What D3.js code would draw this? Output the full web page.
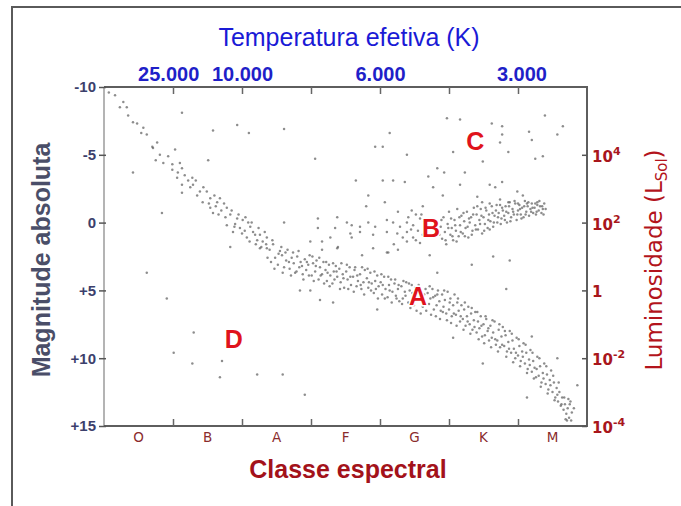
<!DOCTYPE html>
<html>
<head>
<meta charset="utf-8">
<script src="https://cdn.jsdelivr.net/npm/d3@7"></script>
<style>
  body { margin: 0; background: #fff; }
  svg { display: block; }
</style>
</head>
<body>
<div id="chart"></div>
<script>
// Spectral classes along the bottom, band boundaries between them
const classes = ["O", "B", "A", "F", "G", "K", "M"];
const classBounds = [1, 2, 3, 4, 5, 6];

// Absolute magnitude ticks (left) and luminosity ticks (right)
const magTicks = [-10, -5, 0, 5, 10, 15];
const lumTicks = [-5, 0, 5, 10, 15];
const lumLabels = [["10", "4"], ["10", "2"], ["1", ""], ["10", "-2"], ["10", "-4"]];

// Temperature labels on top and where they sit on the spectral axis
const tempLabels = ["25.000", "10.000", "6.000", "3.000"];
const tempClassPos = [0.93, 2.0, 4.0, 6.05];

// Region letters [label, spectral index, magnitude]
const regionLetters = [["A", 4.55, 5.4], ["B", 4.74, 0.4], ["C", 5.38, -6.0], ["D", 1.88, 8.6]];

// Stars: [spectral index, absolute magnitude]
const mainSeqUpper = [
  [0.07,-9.6],[0.16,-9.4],[0.23,-8.5],[0.33,-8.5],[0.35,-7.9],[0.42,-7.4],[0.48,-7.3],[0.54,-6.6],
  [0.62,-6.5],[0.70,-5.6],[0.71,-5.5],[0.77,-5.9],[0.81,-5.0],[0.75,-4.6],[0.86,-4.4],[0.99,-4.3],
  [1.03,-5.4],[1.10,-4.4],[0.99,-3.9],[1.07,-3.7],[1.13,-4.0],[1.06,-3.3],[1.17,-3.5],[1.22,-3.1],
  [1.28,-3.3],[1.13,-2.8],[1.29,-2.8],[1.39,-2.3],[1.49,-2.3],[1.35,-2.0],[1.54,-1.8],[1.13,-2.2],
  [1.43,-1.5],[1.64,-1.5],[1.68,-1.8],[1.54,-1.1],[1.78,-1.1],[1.58,-0.7],[1.83,-0.6],[1.93,-0.3],
  [2.01,-0.2],[2.09,0.0],[1.78,0.2],[1.97,0.4],[2.16,0.7],[2.26,0.9],[2.36,1.1],[1.87,0.7],
  [2.07,1.1],[2.22,1.3],[2.30,1.4],[1.83,1.8],[2.26,1.9],[2.36,1.9],[1.70,-0.9],[1.90,0.1],
  [2.12,0.3],[2.20,1.6],[2.04,0.6],[1.62,-1.2],
  [1.44,-2.6],[1.52,-1.4],[1.60,-2.0],[1.66,-0.6],[1.74,-1.4],[1.76,-0.4],[1.85,-0.9],[1.89,0.3],
  [1.95,-0.6],[2.00,0.8],[2.05,-0.4],[2.11,1.4],[2.14,0.0],[2.19,0.9],[2.24,0.4],[2.28,1.8],
  [2.33,0.7],[2.35,1.6],[1.25,-2.6],[1.33,-3.1],[0.93,-4.9],[0.57,-7.0],[0.28,-8.9]
];

const mainSeqLower = [
  [2.40,2.0],[2.42,2.9],[2.45,1.6],[2.48,2.6],[2.52,3.1],[2.55,2.1],[2.58,2.4],[2.61,3.3],
  [2.64,2.8],[2.66,2.0],[2.69,3.4],[2.72,2.6],[2.75,3.0],[2.77,3.7],[2.80,2.5],[2.83,3.3],
  [2.85,2.9],[2.88,3.8],[2.91,2.7],[2.93,3.5],[2.96,3.1],[2.98,2.4],[3.01,3.9],[3.03,3.0],
  [3.06,3.6],[3.08,2.8],[3.11,4.2],[3.13,3.3],[3.16,3.8],[3.18,2.9],[3.21,3.5],[3.23,4.3],
  [3.26,3.1],[3.28,3.9],[3.31,4.5],[3.33,3.6],[3.36,3.2],[3.38,4.0],[3.41,3.4],[3.43,4.4],
  [3.46,3.8],[3.48,4.8],[3.51,3.6],[3.53,4.2],[3.56,3.3],[3.58,4.6],[3.61,4.0],[3.63,3.5],
  [3.66,4.7],[3.68,4.3],[3.71,3.8],[3.73,4.9],[3.76,4.4],[3.78,3.5],[3.81,4.1],[3.83,4.8],
  [3.86,3.7],[3.88,4.5],[3.91,5.2],[3.93,4.3],[3.96,3.9],[3.98,4.7],[4.01,4.4],[4.03,5.3],
  [4.06,4.0],[4.08,4.9],[4.11,5.5],[4.13,4.6],[4.16,4.2],[4.18,5.1],[4.21,4.5],[4.23,5.4],
  [4.26,4.9],[4.28,5.8],[4.31,4.7],[4.33,5.6],[4.36,5.1],[4.38,4.4],[4.41,5.9],[4.43,5.0],
  [4.46,4.6],[4.49,6.1],[4.51,4.8],[4.62,6.2],[4.66,4.9],[4.69,5.2],[4.71,6.0],[4.73,5.6],
  [4.76,4.9],[4.78,6.4],[4.80,5.4],[4.82,6.1],[4.84,5.0],[4.86,5.8],[4.88,6.5],[4.90,5.3],
  [4.92,6.2],[4.94,5.7],[4.96,6.7],[4.98,5.1],[5.00,6.4],[5.02,5.6],[5.04,6.9],[5.06,6.1],
  [5.08,5.3],[5.10,6.8],[5.12,5.9],[5.14,6.5],[5.16,7.3],[5.18,6.1],[5.20,7.1],[5.22,6.4],
  [5.24,7.6],[5.26,6.9],[5.28,6.2],[5.30,7.5],[5.32,6.7],[5.34,7.9],[5.36,7.2],[5.38,6.6],
  [5.40,8.1],[5.42,7.3],[5.44,7.8],[5.46,6.9],[5.48,8.4],[5.50,7.5],[5.52,8.3],[5.54,7.1],
  [5.56,8.0],[5.58,8.7],[5.60,7.6],[5.62,8.5],[5.64,8.1],[5.66,7.3],[5.68,9.0],[5.70,8.7],
  [5.72,7.9],[5.74,9.2],[5.76,8.4],[5.78,7.7],[5.80,9.1],[5.82,8.3],[5.84,9.5],[5.86,8.8],
  [5.88,8.0],[5.90,9.6],[5.92,8.7],[5.94,9.3],[5.96,10.0],[5.98,8.5],[6.00,9.8],[6.02,9.1],
  [6.04,10.2],[6.06,9.5],[6.08,8.9],[6.10,10.4],[6.12,9.6],[6.14,10.8],[6.16,10.1],[6.18,9.4],
  [6.20,11.0],[6.22,10.2],[6.24,10.7],[6.26,11.4],[6.28,9.9],[6.30,11.3],[6.32,10.6],[6.34,11.8],
  [6.36,11.1],[6.38,10.4],[6.40,11.9],[6.42,11.2],[6.44,12.3],[6.46,11.6],[6.48,10.9],[6.50,12.5],
  [6.52,11.8],[6.54,12.9],[6.56,12.2],[6.58,13.2],[6.60,12.5],[6.62,13.5],[6.64,12.9],[6.66,13.8],
  [6.68,13.4],[6.70,14.1],[6.72,13.7],[6.74,14.4],[6.76,13.2],[6.78,14.0],[6.71,14.6],[6.75,13.4],
  // stragglers around the band
  [2.84,5.0],[2.99,5.0],[3.13,5.7],[3.32,5.9],[3.96,6.4],[3.39,1.8],[3.74,2.4],[4.10,2.2],
  [4.26,2.0],[5.33,3.1],[5.64,2.5],[5.83,4.9],[6.57,10.0],[6.86,12.0],[6.13,12.9],[5.06,8.5],
  [5.49,10.4],[6.20,8.4],[5.88,2.8],[4.72,2.4],[4.83,3.7]
];

const mainSeqFill = [
  [2.37,2.6],[2.44,1.3],[2.47,3.4],[2.53,2.3],[2.57,1.8],[2.59,3.7],[2.63,2.2],[2.68,2.9],
  [2.71,3.9],[2.74,2.2],[2.79,3.6],[2.82,2.1],[2.87,3.2],[2.89,4.2],[2.94,2.9],[2.97,3.9],
  [3.02,2.5],[3.04,4.3],[3.07,3.2],[3.12,2.6],[3.14,3.9],[3.19,4.5],[3.22,2.9],[3.24,3.7],
  [3.27,4.7],[3.32,3.0],[3.34,4.2],[3.37,3.6],[3.42,4.9],[3.44,3.0],[3.47,4.1],[3.52,3.1],
  [3.54,4.9],[3.57,4.0],[3.62,5.1],[3.64,3.3],[3.67,3.9],[3.72,4.6],[3.74,3.3],[3.77,5.3],
  [3.82,3.4],[3.84,4.4],[3.87,5.0],[3.92,3.6],[3.94,4.9],[3.97,5.6],[4.02,3.8],[4.04,4.6],
  [4.07,5.6],[4.12,4.0],[4.14,5.0],[4.17,5.9],[4.22,4.2],[4.24,5.6],[4.27,4.6],[4.32,6.0],
  [4.34,4.3],[4.37,5.4],[4.42,4.5],[4.44,6.3],[4.47,5.2],[4.53,6.5],[4.56,4.6],[4.59,6.7],
  [4.64,5.3],[4.67,6.5],[4.72,4.7],[4.74,6.8],[4.77,5.5],[4.81,6.9],[4.83,5.3],[4.87,7.1],
  [4.91,6.6],[4.93,5.0],[4.97,7.2],[5.01,5.9],[5.03,7.4],[5.07,6.7],[5.11,7.6],[5.13,5.6],
  [5.17,6.9],[5.21,7.9],[5.23,5.9],[5.27,7.3],[5.31,8.2],[5.33,6.3],[5.37,7.7],[5.41,6.6],
  [5.43,8.6],[5.47,7.6],[5.51,8.9],[5.53,6.9],[5.57,7.8],[5.61,9.2],[5.63,7.2],[5.67,8.6],
  [5.71,9.5],[5.73,7.5],[5.77,9.0],[5.81,8.0],[5.83,9.9],[5.87,9.3],[5.91,8.2],[5.93,10.3],
  [5.97,9.6],[6.01,8.6],[6.03,10.6],[6.07,9.9],[6.11,9.0],[6.13,11.1],[6.17,10.5],[6.21,9.6],
  [6.23,11.5],[6.27,10.8],[6.31,10.0],[6.33,12.1],[6.37,11.5],[6.41,10.6],[6.43,12.6],[6.47,12.0],
  [6.51,11.3],[6.53,13.1],[6.57,12.7],[6.59,11.8],[6.63,13.4],[6.67,12.9],[6.69,14.5],[6.73,13.0],
  [6.77,14.6],[6.81,13.7]
];

const subGiants = [
  [3.10,-0.3],[2.61,0.0],[3.38,-0.4],[3.52,0.0],[3.59,0.2],[3.71,0.3],[3.83,0.0],[3.93,0.3],
  [4.10,-0.2],[4.19,0.0],[4.29,0.3],[4.39,0.0],[4.48,0.2],[4.58,-0.3],[3.10,0.4],[3.35,0.4],
  [3.57,0.8],[3.71,0.7],[3.90,0.9],[4.10,0.7],[4.25,0.8],[4.39,0.7],[4.48,1.1],[4.33,1.1],
  [2.99,1.4],[3.16,1.4],[3.28,1.1],[3.59,1.1],[3.38,1.9],[3.16,2.0],[3.90,1.9],[4.12,2.2],
  [4.39,1.4],[4.20,1.6],[4.52,-0.6],[3.80,-1.2],[4.07,-1.5],[4.26,-0.8],[4.46,-0.9],[4.62,-1.2]
];

const giants = [
  [4.55,0.6],[4.58,1.5],[4.60,-0.6],[4.88,0.3],[4.90,1.2],[4.92,-0.4],[4.94,0.7],[4.96,1.6],
  [4.98,0.1],[5.00,-0.8],[5.02,0.9],[5.04,0.4],[5.06,1.3],[5.08,-0.2],[5.10,0.6],[5.12,-1.0],
  [5.14,1.0],[5.16,0.2],[5.18,-0.5],[5.20,0.8],[5.22,-0.1],[5.24,0.4],[5.26,-0.8],[5.28,1.1],
  [5.30,0.0],[5.32,-0.4],[5.34,0.6],[5.36,-1.1],[5.38,0.2],[5.40,-0.6],[5.42,0.5],[5.44,-0.2],
  [5.46,-1.0],[5.48,0.8],[5.50,-0.4],[5.52,0.1],[5.54,-0.9],[5.56,0.4],[5.58,-0.6],[5.60,-0.1],
  [5.62,-1.2],[5.64,0.3],[5.66,-0.5],[5.68,-0.9],[5.70,0.0],[5.72,-0.7],[5.74,-1.3],[5.76,-0.3],
  [5.78,-0.9],[5.80,-0.5],[5.82,-1.2],[5.84,0.0],[5.86,-0.7],[5.88,-1.5],[5.90,-0.4],[5.92,-1.0],
  [5.94,-0.6],[5.96,-1.4],[5.98,-0.2],[6.00,-0.9],[6.02,-1.3],[6.04,-0.6],[6.06,-1.1],[6.08,-0.4],
  [6.10,-1.6],[6.12,-0.8],[6.14,-1.2],[6.16,-0.5],[6.18,-1.0],[6.20,-1.4],[6.22,-0.7],[6.24,-1.1],
  [6.26,-0.6],[6.28,-1.5],[6.30,-0.9],[6.32,-1.2],[6.34,-0.7],[6.36,-1.0],[6.38,-1.4],
  [3.65,-3.1],[4.04,-3.1],[4.19,-3.1],[4.36,-3.0],[4.83,-4.0],[4.93,-3.7],[4.70,-3.4],[5.23,-3.7],
  [5.77,-3.0],[5.59,-2.8],[5.67,-2.6],[4.77,-2.6],[5.16,-2.8],[5.99,-2.3],[6.07,-2.0],[4.91,-2.0],
  [5.41,-1.9],[5.48,-1.5],[5.59,-1.4],[5.74,-1.7],[5.86,-1.5],[6.00,-1.4],[6.13,-1.4],[6.28,-1.3],
  [3.83,-2.0]
];

const giantsFill = [
  [4.86,0.9],[4.89,-0.2],[4.95,1.3],[4.99,0.4],[5.03,-0.3],[5.05,1.0],[5.09,0.2],[5.11,1.4],
  [5.15,-0.4],[5.17,0.7],[5.21,-0.7],[5.23,1.0],[5.27,0.3],[5.29,-0.3],[5.33,0.9],[5.35,-0.6],
  [5.39,0.5],[5.41,-1.2],[5.45,0.1],[5.47,-0.5],[5.51,0.6],[5.53,-1.1],[5.57,-0.2],[5.59,0.5],
  [5.63,-0.7],[5.65,0.0],[5.69,-1.3],[5.71,-0.4],[5.75,0.1],[5.77,-1.1],[5.81,-0.2],[5.83,-0.8],
  [5.87,-1.2],[5.89,-0.1],[5.93,-0.8],[5.95,-1.6],[5.99,-0.6],[6.03,-1.0],[6.05,-0.3],[6.09,-1.2],
  [6.11,-0.6],[6.15,-1.5],[6.19,-0.8],[6.21,-1.1],[6.25,-1.4],[6.27,-0.8],[6.31,-1.6],[6.35,-1.2],
  [6.37,-0.6],[6.40,-1.0],[4.62,0.9],[4.64,-0.1],[4.52,1.3],[4.45,0.5],[4.41,-0.4]
];

const superGiants = [
  [1.13,-8.1],[1.58,-6.8],[1.93,-7.2],[2.10,-6.6],[2.61,-6.9],[3.06,-4.7],[1.51,-4.6],[0.42,-3.7],
  [0.84,-0.7],[4.14,-6.6],[3.93,-5.6],[4.04,-5.6],[4.39,-5.0],[4.97,-7.7],[5.16,-7.6],[5.62,-7.3],
  [5.77,-7.1],[5.77,-6.5],[5.74,-5.9],[5.86,-5.2],[6.16,-6.7],[6.20,-6.1],[6.39,-7.9],[6.65,-7.1],
  [6.57,-6.5],[6.25,-4.7],[6.36,-4.9],[5.06,-5.2],[5.49,-4.5]
];

const whiteDwarfs = [
  [0.62,3.7],[0.91,5.6],[1.30,8.1],[1.01,9.6],[1.28,10.4],[1.71,10.2],[1.68,11.4],[2.22,11.2],
  [2.59,11.2],[2.91,12.7]
];

const width = 681;
const height = 506;
const plot = { left: 104, right: 587, top: 87, bottom: 426 };

const svg = d3.select("#chart").append("svg")
  .attr("width", width)
  .attr("height", height);

// outer frame (top and left edges of a box)
svg.append("path")
  .attr("d", `M12,${height} L12,7 L${width},7`)
  .attr("fill", "none")
  .attr("stroke", "#5a5a5a")
  .attr("stroke-width", 2);

const x = d3.scaleLinear().domain([0, 7]).range([plot.left, plot.right]);
const y = d3.scaleLinear().domain([-10, 15]).range([plot.top, plot.bottom]);
const band = d3.scaleBand().domain(classes).range([plot.left, plot.right]);

// stars
const stars = [].concat(mainSeqUpper, mainSeqLower, mainSeqFill, subGiants, giants, giantsFill,
  superGiants, whiteDwarfs);
svg.append("g")
  .selectAll("circle")
  .data(stars)
  .join("circle")
  .attr("cx", d => x(d[0]))
  .attr("cy", d => y(d[1]))
  .attr("r", 1.25)
  .attr("fill", "#5c5c5c")
  .attr("opacity", 0.7);

// plot border
svg.append("line")
  .attr("x1", plot.left).attr("x2", plot.left)
  .attr("y1", plot.top).attr("y2", plot.bottom)
  .attr("stroke", "#b4b4b4").attr("stroke-width", 2);
svg.append("path")
  .attr("d", `M${plot.left},${plot.top} H${plot.right} V${plot.bottom} H${plot.left}`)
  .attr("fill", "none")
  .attr("stroke", "#5e5e5e")
  .attr("stroke-width", 2);

// top / bottom inner ticks at class boundaries
svg.append("g")
  .attr("transform", `translate(0,${plot.top})`)
  .call(d3.axisTop(x).tickValues(classBounds).tickSize(-7).tickSizeOuter(0).tickFormat(""))
  .call(g => g.select(".domain").remove())
  .call(g => g.selectAll("line").attr("stroke", "#666").attr("stroke-width", 1.5));
svg.append("g")
  .attr("transform", `translate(0,${plot.bottom})`)
  .call(d3.axisBottom(x).tickValues(classBounds).tickSize(-7).tickSizeOuter(0).tickFormat(""))
  .call(g => g.select(".domain").remove())
  .call(g => g.selectAll("line").attr("stroke", "#666").attr("stroke-width", 1.5));

// temperature labels
svg.append("g")
  .attr("transform", `translate(0,${plot.top - 6})`)
  .call(d3.axisTop(x).tickValues(tempClassPos).tickSize(0).tickPadding(0)
    .tickFormat((d, i) => tempLabels[i]))
  .call(g => g.select(".domain").remove())
  .call(g => g.selectAll("text")
    .attr("font-family", "Liberation Sans, Arial, sans-serif")
    .attr("font-size", 20)
    .attr("font-weight", "bold")
    .attr("fill", "#1f1fc8"));

// spectral class letters
svg.append("g")
  .attr("transform", `translate(0,${plot.bottom + 6})`)
  .call(d3.axisBottom(band).tickSize(0).tickPadding(0))
  .call(g => g.select(".domain").remove())
  .call(g => g.selectAll("text")
    .attr("font-family", "DejaVu Sans, sans-serif")
    .attr("font-size", 13.5)
    .attr("fill", "#8a2c2c"));

// left magnitude axis
svg.append("g")
  .attr("transform", `translate(${plot.left + 2},0)`)
  .call(d3.axisLeft(y).tickValues(magTicks).tickSize(7).tickSizeOuter(0).tickPadding(3)
    .tickFormat(d => d > 0 ? "+" + d : String(d)))
  .call(g => g.select(".domain").remove())
  .call(g => g.selectAll("line").attr("stroke", "#555").attr("stroke-width", 1.5))
  .call(g => g.selectAll("text")
    .attr("font-family", "Liberation Sans, Arial, sans-serif")
    .attr("font-size", 15)
    .attr("font-weight", "bold")
    .attr("fill", "#3c3f6c"));

// right luminosity axis
const right = svg.append("g")
  .attr("transform", `translate(${plot.right},0)`)
  .call(d3.axisRight(y).tickValues(lumTicks).tickSize(-5).tickSizeOuter(0).tickFormat(""))
  .call(g => g.select(".domain").remove())
  .call(g => g.selectAll("line").attr("stroke", "#555").attr("stroke-width", 1.5));

const lumText = right.selectAll(".lum")
  .data(lumTicks)
  .join("text")
  .attr("class", "lum")
  .attr("x", 5)
  .attr("y", d => y(d) + 7)
  .attr("font-family", "DejaVu Sans, sans-serif")
  .attr("font-size", 15)
  .attr("font-weight", "bold")
  .attr("fill", "#a8161c");
lumText.append("tspan").text((d, i) => lumLabels[i][0]);
lumText.append("tspan")
  .attr("dy", -7)
  .attr("font-size", 11)
  .text((d, i) => lumLabels[i][1]);

// axis titles
svg.append("text")
  .attr("x", 349).attr("y", 46)
  .attr("text-anchor", "middle")
  .attr("font-family", "Liberation Sans, Arial, sans-serif")
  .attr("font-size", 25)
  .attr("fill", "#1a1ad6")
  .text("Temperatura efetiva (K)");

svg.append("text")
  .attr("x", 348).attr("y", 478)
  .attr("text-anchor", "middle")
  .attr("font-family", "Liberation Sans, Arial, sans-serif")
  .attr("font-size", 25)
  .attr("font-weight", "bold")
  .attr("fill", "#a3121a")
  .text("Classe espectral");

svg.append("text")
  .attr("transform", "translate(50,260) rotate(-90)")
  .attr("text-anchor", "middle")
  .attr("font-family", "Liberation Sans, Arial, sans-serif")
  .attr("font-size", 25)
  .attr("font-weight", "bold")
  .attr("fill", "#4a4e68")
  .text("Magnitude absoluta");

const lumTitle = svg.append("text")
  .attr("transform", "translate(662,260) rotate(-90)")
  .attr("text-anchor", "middle")
  .attr("font-family", "DejaVu Sans, sans-serif")
  .attr("font-size", 23)
  .attr("fill", "#b3141c");
lumTitle.append("tspan").text("Luminosidade (L");
lumTitle.append("tspan").attr("font-size", 15).attr("dy", 5).text("Sol");
lumTitle.append("tspan").attr("dy", -5).text(")");

// region letters
svg.append("g")
  .selectAll("text")
  .data(regionLetters)
  .join("text")
  .attr("x", d => x(d[1]))
  .attr("y", d => y(d[2]))
  .attr("text-anchor", "middle")
  .attr("dominant-baseline", "central")
  .attr("font-family", "Liberation Sans, Arial, sans-serif")
  .attr("font-size", 25)
  .attr("font-weight", "bold")
  .attr("fill", "#e0131c")
  .attr("stroke", "#fff")
  .attr("stroke-width", 3)
  .attr("paint-order", "stroke")
  .text(d => d[0]);
</script>
</body>
</html>
